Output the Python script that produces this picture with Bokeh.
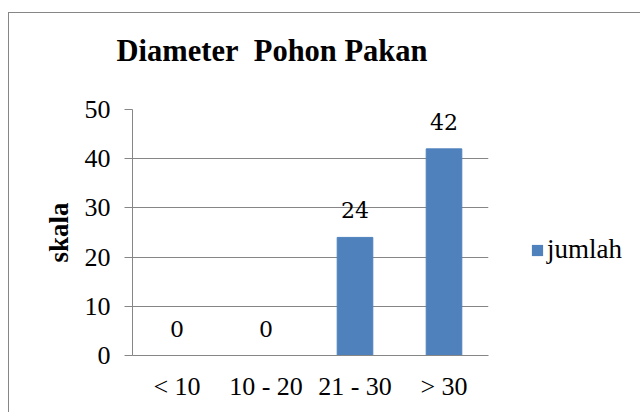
from bokeh.plotting import figure
from bokeh.layouts import row
from bokeh.models import ColumnDataSource, Legend, LegendItem, FixedTicker, Title
from bokeh.core.properties import value
from bokeh.embed import file_html
from bokeh.resources import INLINE

categories = ["< 10", "10 - 20", "21 - 30", "> 30"]
jumlah = [0, 0, 24, 42]
labels = [str(v) for v in jumlah]
y_ticks = [0, 10, 20, 30, 40, 50]
title_text = "Diameter\u00a0 Pohon Pakan"
y_title = "skala"
series_name = "jumlah"
bar_color = "#4F81BD"

src = ColumnDataSource(dict(cat=categories, val=jumlah, lab=labels))

p = figure(x_range=categories, y_range=(0, 50), width=489, height=399,
           output_backend="svg", toolbar_location=None,
           min_border_left=123, min_border_right=10,
           min_border_top=96, min_border_bottom=57)
p.outline_line_color = None
p.background_fill_color = "white"
p.border_fill_color = "white"

bars = p.vbar(x="cat", top="val", width=0.4, source=src,
              fill_color=bar_color, line_color=bar_color)
p.text(x="cat", y="val", text="lab", source=src, y_offset=-27,
       text_align="center", text_baseline="alphabetic",
       text_font=value("DejaVu Serif"), text_font_size="22px", text_color="black")

# axes
p.xgrid.grid_line_color = None
p.ygrid.grid_line_color = "#868686"
p.ygrid.grid_line_width = 1
p.yaxis.ticker = FixedTicker(ticks=y_ticks)
p.yaxis.axis_line_color = "#868686"
p.yaxis.major_tick_line_color = "#868686"
p.yaxis.major_tick_out = 8
p.yaxis.major_tick_in = 0
p.yaxis.minor_tick_line_color = None
p.yaxis.major_label_standoff = 14
p.yaxis.major_label_text_font = "Liberation Serif"
p.yaxis.major_label_text_font_size = "26px"
p.yaxis.major_label_text_color = "black"
p.yaxis.axis_label = y_title
p.yaxis.axis_label_text_font = "Liberation Serif"
p.yaxis.axis_label_text_font_style = "bold"
p.yaxis.axis_label_text_font_size = "27px"
p.yaxis.axis_label_text_color = "black"
p.yaxis.axis_label_standoff = 8

p.xaxis.axis_line_color = "#868686"
p.xaxis.major_tick_line_color = None
p.xaxis.major_tick_out = 0
p.xaxis.major_tick_in = 0
p.xaxis.major_label_standoff = 16
p.xaxis.major_label_text_font = "Liberation Serif"
p.xaxis.major_label_text_font_size = "26px"
p.xaxis.major_label_text_color = "black"

# title: spacer (closest to frame) then real title above it
p.title.text = ""
spacer = Title(text=" ", text_font_size="10px", standoff=29)
p.add_layout(spacer, "above")
main_title = Title(text=title_text, align="right", offset=61, standoff=0,
                   vertical_align="bottom",
                   text_font="Liberation Serif", text_font_style="bold",
                   text_font_size="30.5px", text_color="black")
p.add_layout(main_title, "above")

# legend panel to the right of the chart (zero-width bars only feed the legend key)
p2 = figure(x_range=categories, y_range=(0, 50), width=142, height=399,
            output_backend="svg", toolbar_location=None,
            x_axis_location=None, y_axis_location=None,
            min_border_left=0, min_border_right=0,
            min_border_top=96, min_border_bottom=57)
p2.outline_line_color = None
p2.xgrid.grid_line_color = None
p2.ygrid.grid_line_color = None
p2.background_fill_color = "white"
p2.border_fill_color = "white"
key = p2.vbar(x="cat", top="val", width=0, source=src,
              fill_color=bar_color, line_color=None)
legend = Legend(items=[LegendItem(label=series_name, renderers=[key])],
                location=(32, 90), glyph_width=14, glyph_height=14,
                label_standoff=3, padding=0, margin=0, label_height=14,
                border_line_color=None, background_fill_alpha=0,
                label_text_font="Liberation Serif", label_text_font_size="27px",
                label_text_color="black")
p2.add_layout(legend, "center")

layout = row(p, p2, spacing=0,
             styles={"margin-left": "8px", "margin-top": "12px",
                     "border-left": "1px solid #868686",
                     "border-top": "1px solid #868686"})

open("out.html", "w").write(file_html(layout, INLINE))
